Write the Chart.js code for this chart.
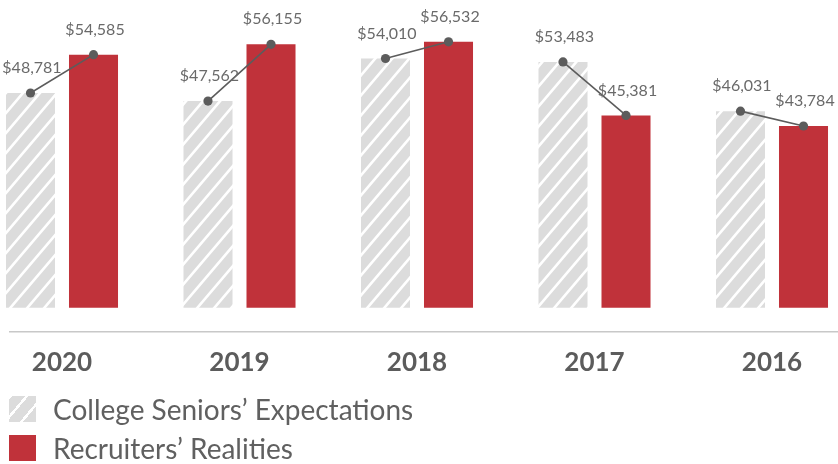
<!DOCTYPE html>
<html>
<head>
<meta charset="utf-8">
<script src="https://cdn.jsdelivr.net/npm/chart.js@4.4.1/dist/chart.umd.min.js"></script>
<style>
  html, body { margin: 0; padding: 0; background: #fff; }
  #wrap { position: relative; width: 838px; height: 464px; }
  #legend { position: absolute; left: 9px; top: 396px; font-family: Lato, "Open Sans", sans-serif; color: #606060; font-size: 28px; }
  .item { display: flex; align-items: center; height: 26px; margin-bottom: 13px; }
  .box { width: 27px; height: 26px; margin-right: 17px; }
  .hatch { background: repeating-linear-gradient(-50deg, #dcdcdc 0px, #dcdcdc 10px, #fff 10px, #fff 12.5px); }
  .red { background: #c0323a; }
</style>
</head>
<body>
<div id="wrap">
  <canvas id="c" width="838" height="464"></canvas>
  <div id="legend"></div>
</div>
<script>
const years = ["2020", "2019", "2018", "2017", "2016"];
const expectations = [48781, 47562, 54010, 53483, 46031];
const realities = [54585, 56155, 56532, 45381, 43784];
const seriesNames = ["College Seniors\u2019 Expectations", "Recruiters\u2019 Realities"];

const GRAY = '#dcdcdc';
const RED = '#c0323a';

function makeHatch() {
  const w = 17, h = 20;
  const p = document.createElement('canvas');
  p.width = w; p.height = h;
  const g = p.getContext('2d');
  g.fillStyle = GRAY;
  g.fillRect(0, 0, w, h);
  g.strokeStyle = '#ffffff';
  g.lineWidth = 2.6;
  g.lineCap = 'square';
  for (const dx of [-w, 0, w]) {
    g.beginPath();
    g.moveTo(dx, h);
    g.lineTo(dx + w, 0);
    g.stroke();
  }
  return document.getElementById('c').getContext('2d').createPattern(p, 'repeat');
}

const fmt = v => '$' + v.toLocaleString('en-US');

const overlay = {
  id: 'overlay',
  afterDatasetsDraw(chart) {
    const ctx = chart.ctx;
    const m0 = chart.getDatasetMeta(0).data;
    const m1 = chart.getDatasetMeta(1).data;
    const yZero = chart.chartArea.bottom;
    ctx.save();
    ctx.strokeStyle = '#c8c8c8';
    ctx.lineWidth = 1.5;
    ctx.beginPath();
    ctx.moveTo(9, yZero + 24);
    ctx.lineTo(chart.width, yZero + 24);
    ctx.stroke();
    ctx.strokeStyle = '#5c5c5c';
    ctx.lineWidth = 1.6;
    for (let i = 0; i < m0.length; i++) {
      ctx.beginPath();
      ctx.moveTo(m0[i].x, m0[i].y);
      ctx.lineTo(m1[i].x, m1[i].y);
      ctx.stroke();
    }
    ctx.fillStyle = '#5c5c5c';
    for (const arr of [m0, m1]) {
      for (const el of arr) {
        ctx.beginPath();
        ctx.arc(el.x, el.y, 4.6, 0, Math.PI * 2);
        ctx.fill();
      }
    }
    ctx.fillStyle = '#6a6a6a';
    ctx.font = '16px Lato, "Open Sans", sans-serif';
    ctx.textAlign = 'center';
    ctx.textBaseline = 'middle';
    const vals = [expectations, realities];
    [m0, m1].forEach((arr, d) => {
      arr.forEach((el, i) => {
        ctx.fillText(fmt(vals[d][i]), el.x + 1.5, el.y - 25);
      });
    });
    ctx.restore();
  }
};

const clipBottom = { left: false, top: false, right: false, bottom: 0 };

new Chart(document.getElementById('c'), {
  type: 'bar',
  data: {
    labels: years,
    datasets: [
      { label: seriesNames[0], data: expectations, backgroundColor: makeHatch(), borderWidth: 0, clip: clipBottom },
      { label: seriesNames[1], data: realities, backgroundColor: RED, borderWidth: 0, clip: clipBottom }
    ]
  },
  options: {
    responsive: false,
    animation: false,
    events: [],
    layout: { padding: { left: 62, right: 66, top: 0, bottom: 47 } },
    categoryPercentage: 0.71,
    barPercentage: 0.778,
    plugins: { legend: { display: false }, tooltip: { enabled: false } },
    scales: {
      x: {
        offset: false,
        grid: { display: false, drawTicks: false, offset: false },
        border: { display: false },
        ticks: { color: '#5c5c5c', padding: 39, font: { family: 'Lato, "Open Sans", sans-serif', size: 26, weight: 'bold' } },
        afterFit(scale) { scale.paddingLeft = 0; scale.paddingRight = 0; }
      },
      y: { display: false, min: 16240, max: 62870 }
    }
  },
  plugins: [overlay]
});

const lg = document.getElementById('legend');
seriesNames.forEach((n, i) => {
  const it = document.createElement('div');
  it.className = 'item';
  const b = document.createElement('div');
  b.className = 'box ' + (i === 0 ? 'hatch' : 'red');
  const t = document.createElement('span');
  t.textContent = n;
  it.appendChild(b); it.appendChild(t);
  lg.appendChild(it);
});
</script>
</body>
</html>
